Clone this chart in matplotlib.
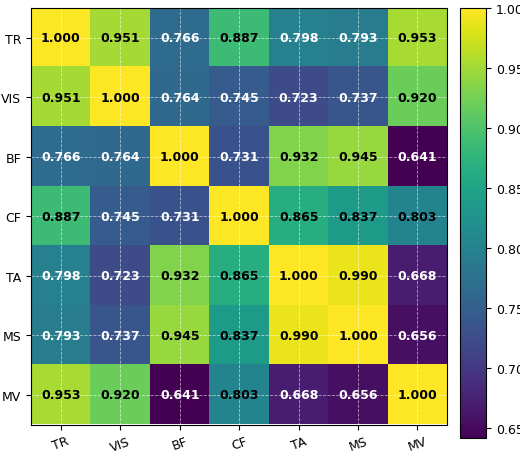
import numpy as np
import matplotlib
matplotlib.use("Agg")
import matplotlib.pyplot as plt

LABELS = ["TR", "VIS", "BF", "CF", "TA", "MS", "MV"]
CORR = [
    [1.000, 0.951, 0.766, 0.887, 0.798, 0.793, 0.953],
    [0.951, 1.000, 0.764, 0.745, 0.723, 0.737, 0.920],
    [0.766, 0.764, 1.000, 0.731, 0.932, 0.945, 0.641],
    [0.887, 0.745, 0.731, 1.000, 0.865, 0.837, 0.803],
    [0.798, 0.723, 0.932, 0.865, 1.000, 0.990, 0.668],
    [0.793, 0.737, 0.945, 0.837, 0.990, 1.000, 0.656],
    [0.953, 0.920, 0.641, 0.803, 0.668, 0.656, 1.000],
]

data = np.array(CORR)

fig = plt.figure(figsize=(5.2, 4.6), dpi=100)
ax = fig.add_axes([0.06, 0.075, 0.80, 0.905])
cax = fig.add_axes([0.885, 0.045, 0.05, 0.935])

im = ax.imshow(data, cmap="viridis", aspect="auto")
ax.set_xticks(range(len(LABELS)))
ax.set_yticks(range(len(LABELS)))
ax.set_xticklabels(LABELS, rotation=20, fontsize=9)
ax.set_yticklabels(LABELS, fontsize=9)
ax.grid(True, color="white", linestyle="--", linewidth=0.6, alpha=0.6)

for i in range(len(LABELS)):
    for j in range(len(LABELS)):
        v = data[i, j]
        ax.text(j, i, f"{v:.3f}", ha="center", va="center", fontsize=9,
                fontweight="bold", color="black" if v > 0.8 else "white")

cb = fig.colorbar(im, cax=cax)
cb.set_ticks([0.65, 0.70, 0.75, 0.80, 0.85, 0.90, 0.95, 1.00])
cb.ax.tick_params(labelsize=9)

fig.savefig("out.png", dpi=100)
